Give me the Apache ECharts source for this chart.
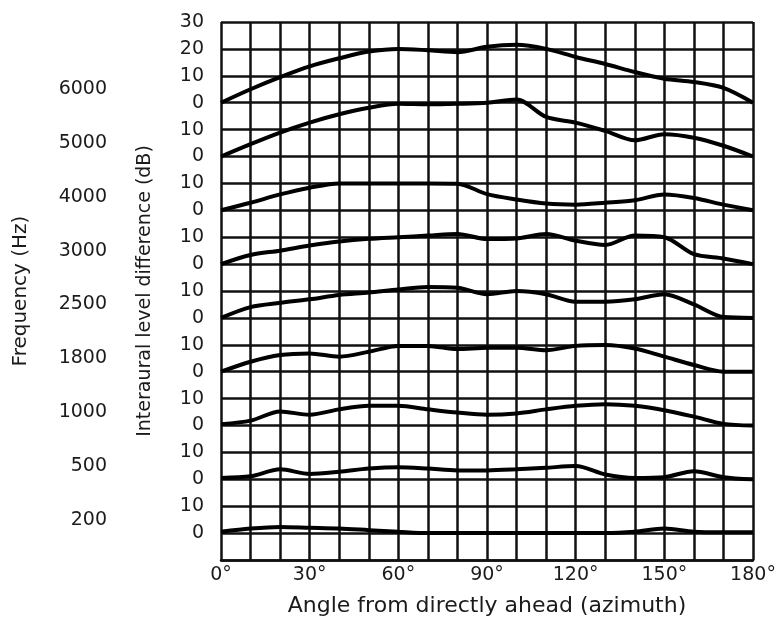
<!DOCTYPE html>
<html>
<head>
<meta charset="utf-8">
<script src="https://cdn.jsdelivr.net/npm/echarts@6/dist/echarts.min.js"></script>
<style>
  html, body { margin: 0; padding: 0; background: #fff; }
  #chart { width: 781px; height: 628px; }
</style>
</head>
<body>
<div id="chart"></div>
<script>
// Azimuth angles (degrees)
const angles = [0, 10, 20, 30, 40, 50, 60, 70, 80, 90, 100, 110, 120, 130, 140, 150, 160, 170, 180];

// Frequencies (Hz), top panel to bottom panel
const frequencies = ['6000', '5000', '4000', '3000', '2500', '1800', '1000', '500', '200'];

// Interaural level difference (dB) per frequency, read at each angle
const ild6000 = [0, 5, 9.5, 13.5, 16.5, 19, 20, 19.5, 18.8, 20.8, 21.5, 20, 17, 14.4, 11.4, 8.9, 7.7, 5.5, 0];
const ild5000 = [0, 4.6, 8.9, 12.6, 15.7, 18.1, 19.6, 19.4, 19.6, 20, 21.2, 14.7, 12.6, 9.5, 6, 8.3, 7, 4, 0];
const ild4000 = [0, 2.8, 5.9, 8.4, 10, 10, 10, 10, 9.9, 6, 4, 2.5, 2.1, 2.8, 3.7, 5.9, 4.6, 2.1, 0];
const ild3000 = [0, 3.4, 5, 6.9, 8.4, 9.4, 10, 10.6, 11.2, 9.3, 9.5, 11.2, 8.7, 7.1, 10.6, 10, 3.7, 2.1, 0];
const ild2500 = [0, 4, 5.6, 6.9, 8.5, 9.4, 10.6, 11.5, 11.2, 8.8, 10, 8.8, 6, 6, 6.9, 8.8, 5, 0.3, 0];
const ild1800 = [0, 3.7, 6.2, 6.8, 5.6, 7.4, 9.6, 9.6, 8.4, 8.9, 8.9, 8, 9.6, 9.9, 8.6, 5.6, 2.5, 0, 0];
const ild1000 = [0.5, 1.8, 5.2, 4, 6, 7.3, 7.3, 6, 4.8, 4, 4.5, 6, 7.3, 7.9, 7.3, 5.7, 3.3, 0.6, 0];
const ild500  = [0.5, 1.1, 3.7, 2, 2.8, 4, 4.5, 4, 3.3, 3.3, 3.7, 4.3, 4.9, 1.8, 0.5, 0.8, 3, 0.8, 0];
const ild200  = [0.5, 1.7, 2.3, 2, 1.7, 1.1, 0.5, 0, 0, 0, 0, 0, 0, 0, 0.5, 1.7, 0.5, 0.3, 0.3];

const ildSeries = [ild6000, ild5000, ild4000, ild3000, ild2500, ild1800, ild1000, ild500, ild200];

// Panel baselines on the stacked dB axis (0 dB of each panel)
const baselines = [170, 150, 130, 110, 90, 70, 50, 30, 10];

// Tick labels of the stacked dB axis, from bottom (0) to top (200), one per 10 units
const yTickLabels = ['', '0', '10', '0', '10', '0', '10', '0', '10', '0', '10', '0', '10', '0', '10', '0', '10', '0', '10', '20', '30'];
// Angle tick labels (every 30 degrees)
const xTickLabels = ['0°', '30°', '60°', '90°', '120°', '150°', '180°'];

const FONT = 'DejaVu Sans';
const TXT = '#1b1b1b';

const chart = echarts.init(document.getElementById('chart'), null, { renderer: 'canvas' });

const series = ildSeries.map((vals, k) => ({
  name: frequencies[k],
  type: 'line',
  xAxisIndex: 0,
  yAxisIndex: 0,
  data: angles.map((a, i) => [a, baselines[k] + vals[i]]),
  symbol: 'none',
  smooth: 0.3,
  lineStyle: { color: '#000', width: 4 },
  z: 5
}));

chart.setOption({
  animation: false,
  backgroundColor: '#fff',
  grid: { left: 221, top: 22, width: 532, height: 538, containLabel: false },
  xAxis: {
    type: 'value',
    min: 0, max: 180, interval: 10,
    name: 'Angle from directly ahead (azimuth)',
    nameLocation: 'middle',
    nameGap: 35,
    nameTextStyle: { fontFamily: FONT, fontSize: 22, color: TXT },
    axisLine: { show: true, lineStyle: { color: '#111', width: 2.5 } },
    axisTick: { show: false },
    axisLabel: {
      margin: 6,
      fontFamily: FONT, fontSize: 19, color: TXT,
      formatter: v => (v % 30 === 0 ? xTickLabels[v / 30] : '')
    },
    splitLine: { show: true, lineStyle: { color: '#111', width: 2.5 } }
  },
  yAxis: [
    {
      type: 'value',
      position: 'left',
      min: 0, max: 200, interval: 10,
      name: 'Interaural level difference (dB)',
      nameLocation: 'middle',
      nameRotate: 90,
      nameGap: 66,
      nameTextStyle: { fontFamily: FONT, fontSize: 19, color: TXT },
      axisLine: { show: false },
      axisTick: { show: false },
      axisLabel: {
        margin: 17,
        fontFamily: FONT, fontSize: 19, color: TXT,
        formatter: v => yTickLabels[Math.round(v / 10)]
      },
      splitLine: { show: true, lineStyle: { color: '#111', width: 2.5 } }
    },
    {
      type: 'value',
      position: 'left',
      min: 0, max: 200, interval: 5,
      name: 'Frequency (Hz)',
      nameLocation: 'middle',
      nameRotate: 90,
      nameGap: 190,
      nameTextStyle: { fontFamily: FONT, fontSize: 20, color: TXT },
      axisLine: { show: false },
      axisTick: { show: false },
      splitLine: { show: false },
      axisLabel: {
        margin: 114,
        fontFamily: FONT, fontSize: 19, color: TXT,
        formatter: v => {
          const k = baselines.indexOf(v - 5);
          return k >= 0 ? frequencies[k] : '';
        }
      }
    }
  ],
  series: series
});
</script>
</body>
</html>
